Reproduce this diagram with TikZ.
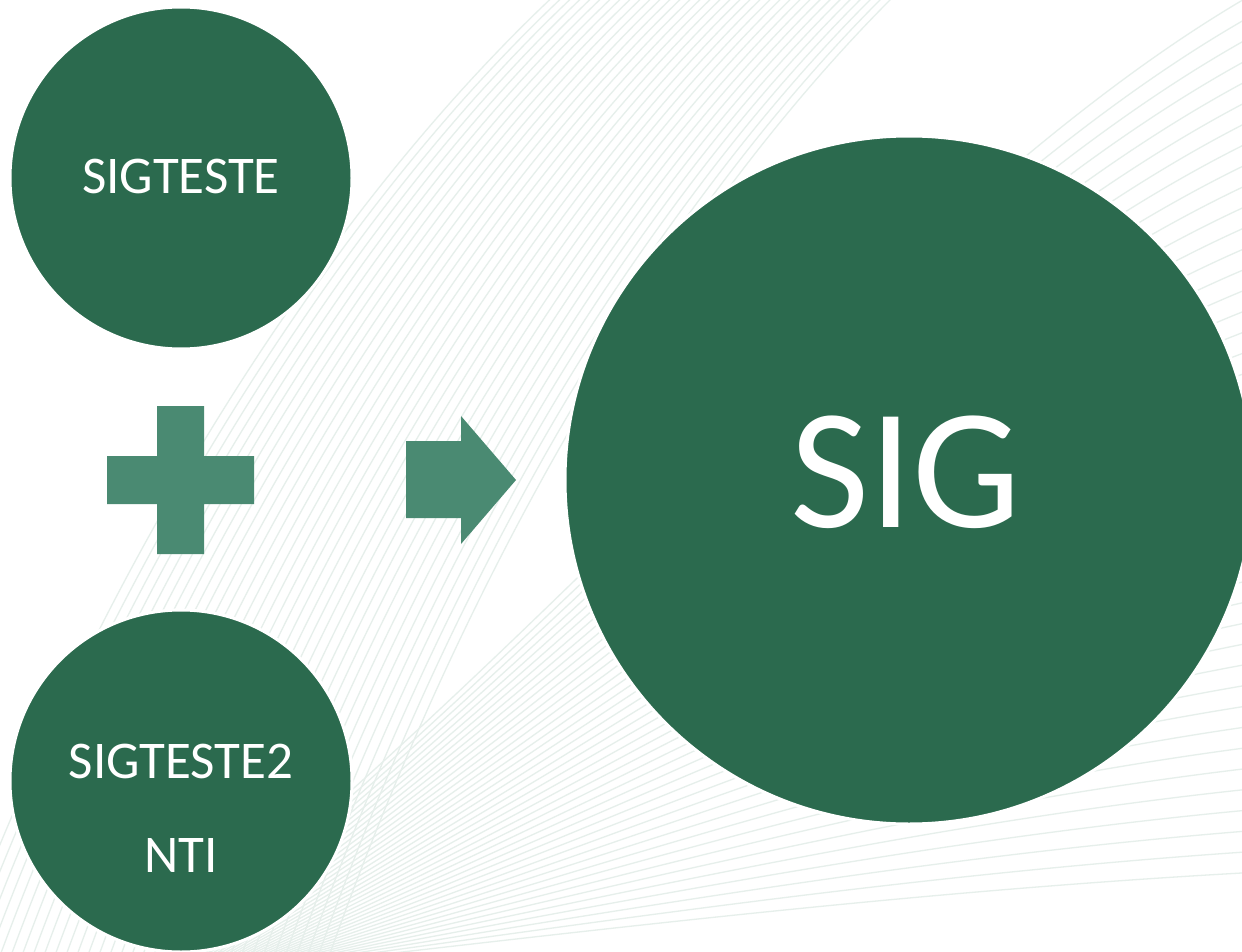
\documentclass[tikz,border=0pt]{standalone}
\usepackage{fontspec}
\setmainfont{Carlito}
\definecolor{dkgreen}{HTML}{2B6A4E}
\definecolor{ltgreen}{HTML}{4A8A72}
\definecolor{bgline}{HTML}{E6EFEB}
\begin{document}
\begin{tikzpicture}[x=1pt,y=-1pt,
  bgcurve/.style={draw=bgline,line width=1.3pt},
  bubble/.style={circle,fill=dkgreen,draw=white,line width=3pt,inner sep=0pt},
  btext/.style={text=white,align=center,inner sep=0pt},
  shapefill/.style={fill=ltgreen}]
\useasboundingbox (0,0) rectangle (1242,952);
\fill[white] (0,0) rectangle (1242,952);
\begin{scope}
\clip (0,0) rectangle (1242,952);
\foreach \i in {0,...,34}{
  \pgfmathsetmacro{\ax}{-60+\i*11}
  \pgfmathsetmacro{\bx}{560+\i*10}
  \pgfmathsetmacro{\cx}{\ax+(\bx-\ax)*0.2}
  \pgfmathsetmacro{\dx}{\ax+(\bx-\ax)*0.55}
  \draw[bgcurve] (\ax,1000) .. controls (\cx,650) and (\dx,250) .. (\bx,-10);
}
\foreach \i in {0,...,42}{
  \pgfmathsetmacro{\by}{-10+\i*21}
  \pgfmathsetmacro{\sy}{1150-\i*4}
  \pgfmathsetmacro{\sx}{-120+\i*6}
  \pgfmathsetmacro{\cy}{\sy-0.3*(\sy-\by)}
  \pgfmathsetmacro{\dy}{\by+0.2*(\sy-\by)}
  \draw[bgcurve] (\sx,\sy) .. controls (450,\cy) and (850,\dy) .. (1260,\by);
}
\end{scope}
% plus
\fill[shapefill] (157,406) -- (204,406) -- (204,456) -- (254,456) -- (254,504) -- (204,504) -- (204,554) -- (157,554) -- (157,504) -- (107,504) -- (107,456) -- (157,456) -- cycle;
% arrow
\fill[shapefill] (406,441) -- (461,441) -- (461,416) -- (516,480) -- (461,544) -- (461,518) -- (406,518) -- cycle;
% circles
\node[bubble,minimum size=342pt] (c1) at (181,178) {};
\node[bubble,minimum size=342pt] (c2) at (181,781) {};
\node[bubble,minimum size=688pt] (c3) at (909,480) {};
\node[btext,font=\fontsize{53}{64}\selectfont] (t1) at (181,176) {SIGTESTE};
\node[btext,font=\fontsize{53}{94}\selectfont] (t2) at (181,808) {SIGTESTE2\\NTI};
\node[btext,font=\fontsize{172}{200}\selectfont] (t3) at (906,472) {SIG};
\end{tikzpicture}
\end{document}
